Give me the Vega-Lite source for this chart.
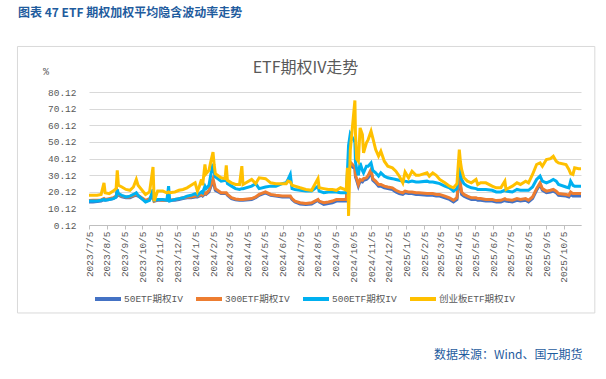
{
  "$schema": "https://vega.github.io/schema/vega-lite/v6.json",
  "width": 492,
  "height": 133,
  "autosize": {"type": "none"},
  "padding": {"left": 89, "top": 92, "right": 25, "bottom": 154},
  "background": "white",
  "title": {"text": "图表 47 ETF 期权加权平均隐含波动率走势", "anchor": "start", "frame": "group", "dx": -71, "offset": 21, "baseline": "middle", "font": "Noto Sans CJK SC", "fontSize": 12, "fontWeight": "bold", "color": "#1F5C9E"},
  "datasets": {
    "iv": [
      {"d":"2023-07-05","a":14,"b":14.8,"c":14.5,"e":18},
      {"d":"2023-07-12","a":14,"b":15,"c":14.5,"e":18},
      {"d":"2023-07-19","a":14.2,"b":15,"c":14.5,"e":18},
      {"d":"2023-07-26","a":14.5,"b":15.2,"c":15,"e":18.5},
      {"d":"2023-07-31","a":15.5,"b":16,"c":15.5,"e":25.5},
      {"d":"2023-08-02","a":15,"b":15.5,"c":15,"e":19.5},
      {"d":"2023-08-09","a":15.5,"b":16,"c":15.5,"e":19},
      {"d":"2023-08-16","a":16,"b":16.5,"c":16,"e":20.5},
      {"d":"2023-08-21","a":17,"b":17.5,"c":17,"e":22},
      {"d":"2023-08-23","a":20,"b":20.5,"c":21.5,"e":33},
      {"d":"2023-08-25","a":18,"b":18.5,"c":19,"e":24},
      {"d":"2023-08-31","a":17,"b":17.5,"c":18,"e":23},
      {"d":"2023-09-07","a":16.5,"b":17,"c":17,"e":21.5},
      {"d":"2023-09-14","a":16.5,"b":17,"c":17.5,"e":21},
      {"d":"2023-09-20","a":17.5,"b":18,"c":18.5,"e":23},
      {"d":"2023-09-25","a":18,"b":18.5,"c":19.5,"e":27.5},
      {"d":"2023-09-28","a":17.5,"b":18,"c":18,"e":24},
      {"d":"2023-10-11","a":14.5,"b":15,"c":14,"e":18.5},
      {"d":"2023-10-18","a":15.5,"b":16,"c":15,"e":20},
      {"d":"2023-10-24","a":18,"b":18.5,"c":21.5,"e":35},
      {"d":"2023-10-26","a":14.5,"b":14.5,"c":15,"e":14.5},
      {"d":"2023-11-01","a":15,"b":15.5,"c":15.5,"e":20.5},
      {"d":"2023-11-10","a":15,"b":15,"c":15.5,"e":20.5},
      {"d":"2023-11-17","a":15,"b":15,"c":15,"e":19.5},
      {"d":"2023-11-20","a":15.5,"b":15.5,"c":23.5,"e":20},
      {"d":"2023-11-22","a":15,"b":15,"c":14.5,"e":19.5},
      {"d":"2023-12-01","a":15,"b":15.5,"c":15.5,"e":20},
      {"d":"2023-12-08","a":15.5,"b":16,"c":16,"e":21},
      {"d":"2023-12-15","a":16,"b":16.5,"c":16.5,"e":21.5},
      {"d":"2023-12-22","a":16.5,"b":17,"c":17.5,"e":22.5},
      {"d":"2023-12-29","a":16.5,"b":17,"c":18,"e":24},
      {"d":"2024-01-05","a":17,"b":17.5,"c":19,"e":25.5},
      {"d":"2024-01-09","a":17,"b":17.5,"c":18,"e":20.5},
      {"d":"2024-01-12","a":17.5,"b":18,"c":19,"e":23},
      {"d":"2024-01-16","a":18,"b":18.5,"c":20,"e":27.5},
      {"d":"2024-01-18","a":17.5,"b":18,"c":19.5,"e":24},
      {"d":"2024-01-22","a":19,"b":19.5,"c":23.5,"e":36.5},
      {"d":"2024-01-24","a":18.5,"b":19,"c":22,"e":31},
      {"d":"2024-01-29","a":20,"b":21,"c":24,"e":33},
      {"d":"2024-02-01","a":23,"b":24,"c":30,"e":38},
      {"d":"2024-02-05","a":26,"b":28,"c":37,"e":43.9},
      {"d":"2024-02-07","a":24,"b":25,"c":32,"e":36.5},
      {"d":"2024-02-09","a":21,"b":22,"c":29,"e":31},
      {"d":"2024-02-19","a":19,"b":19.5,"c":26.5,"e":28.5},
      {"d":"2024-02-26","a":19,"b":19.5,"c":27,"e":28},
      {"d":"2024-02-28","a":19,"b":19.5,"c":28,"e":36},
      {"d":"2024-03-01","a":18,"b":18.5,"c":25,"e":27},
      {"d":"2024-03-08","a":16,"b":16.5,"c":23.5,"e":25.5},
      {"d":"2024-03-15","a":15.3,"b":15.8,"c":22,"e":24.5},
      {"d":"2024-03-22","a":15,"b":15.5,"c":21.5,"e":24.5},
      {"d":"2024-03-26","a":15,"b":15.5,"c":22,"e":35.5},
      {"d":"2024-03-28","a":15,"b":15.5,"c":22,"e":24.5},
      {"d":"2024-04-12","a":15.5,"b":16,"c":23.5,"e":27.5},
      {"d":"2024-04-19","a":16.5,"b":17,"c":25,"e":25},
      {"d":"2024-04-25","a":18,"b":18.5,"c":22,"e":28.5},
      {"d":"2024-05-06","a":19.5,"b":20,"c":23,"e":28},
      {"d":"2024-05-15","a":18,"b":18.5,"c":23.5,"e":25.5},
      {"d":"2024-05-24","a":17.5,"b":18,"c":23.5,"e":25},
      {"d":"2024-06-04","a":17,"b":17.5,"c":25,"e":25},
      {"d":"2024-06-11","a":17,"b":17.5,"c":25.5,"e":25},
      {"d":"2024-06-14","a":17,"b":17.5,"c":27.5,"e":26.5},
      {"d":"2024-06-18","a":17,"b":17.5,"c":30.5,"e":26},
      {"d":"2024-06-21","a":15.5,"b":16,"c":22,"e":24},
      {"d":"2024-06-26","a":14,"b":14.5,"c":21.5,"e":23.5},
      {"d":"2024-07-05","a":12.8,"b":13.5,"c":21,"e":22.5},
      {"d":"2024-07-15","a":12.5,"b":13,"c":20.5,"e":21.5},
      {"d":"2024-07-25","a":12.8,"b":13.5,"c":20.5,"e":21},
      {"d":"2024-08-05","a":15,"b":15.5,"c":23.5,"e":28},
      {"d":"2024-08-07","a":14,"b":14.5,"c":20.5,"e":22.5},
      {"d":"2024-08-15","a":12.5,"b":13.5,"c":19.5,"e":22},
      {"d":"2024-08-23","a":13,"b":14,"c":20,"e":21.5},
      {"d":"2024-08-30","a":13.5,"b":14.5,"c":20,"e":21.5},
      {"d":"2024-09-06","a":14.5,"b":15.5,"c":20,"e":21},
      {"d":"2024-09-13","a":14.5,"b":15.5,"c":19.5,"e":22.5},
      {"d":"2024-09-20","a":14.5,"b":15.5,"c":19.5,"e":21.5},
      {"d":"2024-09-23","a":14.5,"b":15.5,"c":19.5,"e":21},
      {"d":"2024-09-24","a":19,"b":20,"c":25,"e":28},
      {"d":"2024-09-25","a":26,"b":27,"c":32,"e":34.5},
      {"d":"2024-09-26","a":31,"b":33,"c":40,"e":30},
      {"d":"2024-09-27","a":34,"b":36.5,"c":48,"e":5.6},
      {"d":"2024-09-30","a":36,"b":38,"c":55,"e":45},
      {"d":"2024-10-08","a":34,"b":35,"c":50,"e":75},
      {"d":"2024-10-09","a":29,"b":30,"c":38,"e":55},
      {"d":"2024-10-11","a":27,"b":28,"c":34,"e":40},
      {"d":"2024-10-14","a":23.5,"b":24.5,"c":30,"e":38.5},
      {"d":"2024-10-17","a":26.5,"b":27.5,"c":37.5,"e":58.5},
      {"d":"2024-10-21","a":26,"b":27,"c":33,"e":54.5},
      {"d":"2024-10-23","a":27,"b":28,"c":31.5,"e":43.5},
      {"d":"2024-10-28","a":27.5,"b":28.5,"c":35.5,"e":49.5},
      {"d":"2024-10-31","a":28.5,"b":30,"c":35.5,"e":51.5},
      {"d":"2024-11-05","a":32,"b":33.5,"c":37.5,"e":56.5},
      {"d":"2024-11-08","a":27,"b":28,"c":33,"e":52.5},
      {"d":"2024-11-13","a":25.5,"b":26.5,"c":31.5,"e":45.5},
      {"d":"2024-11-18","a":23.5,"b":24.5,"c":29.5,"e":41.5},
      {"d":"2024-11-22","a":23.5,"b":24.5,"c":31.5,"e":44.5},
      {"d":"2024-11-28","a":22.5,"b":23.5,"c":29.5,"e":38.5},
      {"d":"2024-12-04","a":22,"b":23,"c":28.5,"e":35.5},
      {"d":"2024-12-12","a":21.5,"b":22.5,"c":28,"e":34.5},
      {"d":"2024-12-18","a":20,"b":21,"c":27.5,"e":32.5},
      {"d":"2024-12-24","a":19,"b":20,"c":27,"e":29.5},
      {"d":"2024-12-30","a":18.5,"b":19.5,"c":26.5,"e":25.5},
      {"d":"2025-01-03","a":19.5,"b":20.5,"c":26.5,"e":32},
      {"d":"2025-01-09","a":19,"b":20,"c":26,"e":28.5},
      {"d":"2025-01-15","a":19,"b":20,"c":26.5,"e":32.5},
      {"d":"2025-01-22","a":18.5,"b":19.5,"c":26,"e":30},
      {"d":"2025-01-27","a":18.5,"b":19.5,"c":26,"e":30},
      {"d":"2025-02-10","a":18,"b":19,"c":26.5,"e":31.5},
      {"d":"2025-02-14","a":18,"b":19,"c":26,"e":29.5},
      {"d":"2025-02-20","a":18,"b":19,"c":26,"e":31.5},
      {"d":"2025-02-26","a":17.5,"b":18.5,"c":25.5,"e":30},
      {"d":"2025-03-04","a":17.5,"b":18.5,"c":25,"e":27.5},
      {"d":"2025-03-13","a":16.5,"b":17.5,"c":23.5,"e":25.5},
      {"d":"2025-03-21","a":15.5,"b":16.5,"c":22.5,"e":23.5},
      {"d":"2025-03-28","a":14,"b":15,"c":20.5,"e":22.5},
      {"d":"2025-04-03","a":15.5,"b":16.5,"c":22,"e":25},
      {"d":"2025-04-07","a":30,"b":31.5,"c":37.5,"e":45.5},
      {"d":"2025-04-09","a":23.5,"b":25,"c":32,"e":38},
      {"d":"2025-04-11","a":18.5,"b":20,"c":27.5,"e":33.5},
      {"d":"2025-04-15","a":17.5,"b":18.5,"c":25,"e":28.5},
      {"d":"2025-04-21","a":16.5,"b":17.5,"c":23.5,"e":26.5},
      {"d":"2025-04-28","a":15.5,"b":16.5,"c":22.5,"e":25.5},
      {"d":"2025-05-06","a":15.5,"b":16.5,"c":22,"e":27.5},
      {"d":"2025-05-09","a":15,"b":16,"c":21.5,"e":24.5},
      {"d":"2025-05-14","a":15,"b":16,"c":21.5,"e":25.5},
      {"d":"2025-05-23","a":14.5,"b":15.5,"c":21.5,"e":25.5},
      {"d":"2025-06-03","a":14.5,"b":15.5,"c":21,"e":23.5},
      {"d":"2025-06-10","a":14,"b":14.8,"c":20,"e":22.5},
      {"d":"2025-06-18","a":14,"b":15,"c":20,"e":22.5},
      {"d":"2025-06-25","a":15,"b":16,"c":21,"e":26.5},
      {"d":"2025-06-27","a":14.5,"b":15.5,"c":20.5,"e":21.5},
      {"d":"2025-07-08","a":14,"b":15,"c":20,"e":23.5},
      {"d":"2025-07-16","a":15,"b":16,"c":21.5,"e":25.5},
      {"d":"2025-07-22","a":14.5,"b":15.5,"c":21,"e":24.5},
      {"d":"2025-07-31","a":15,"b":16,"c":21,"e":26.5},
      {"d":"2025-08-05","a":14,"b":15,"c":21,"e":25.5},
      {"d":"2025-08-12","a":16,"b":17,"c":23,"e":30.5},
      {"d":"2025-08-19","a":21,"b":22,"c":27.5,"e":36.5},
      {"d":"2025-08-25","a":24.5,"b":25.5,"c":29.5,"e":37.5},
      {"d":"2025-08-29","a":21,"b":22,"c":26.5,"e":35.5},
      {"d":"2025-09-05","a":19.5,"b":20.5,"c":25.5,"e":39.5},
      {"d":"2025-09-12","a":20,"b":21,"c":26.5,"e":40},
      {"d":"2025-09-17","a":20.5,"b":21.5,"c":27.5,"e":41.5},
      {"d":"2025-09-22","a":19.5,"b":20.5,"c":26.5,"e":38.5},
      {"d":"2025-09-26","a":18,"b":19,"c":24.5,"e":37.5},
      {"d":"2025-10-09","a":17.5,"b":18.5,"c":23,"e":36.5},
      {"d":"2025-10-14","a":17,"b":18,"c":22.5,"e":33.5},
      {"d":"2025-10-17","a":18.5,"b":20,"c":26.5,"e":31},
      {"d":"2025-10-21","a":17.5,"b":19,"c":24,"e":30.5},
      {"d":"2025-10-24","a":17.5,"b":19,"c":23.5,"e":34.5},
      {"d":"2025-10-31","a":17.5,"b":19,"c":23.5,"e":34},
      {"d":"2025-11-04","a":17.5,"b":19,"c":23.5,"e":34}
    ]
  },
  "layer": [
    {
      "data": {"values": [{}]},
      "mark": {"type": "rect", "filled": false, "stroke": "#D9D9D9", "strokeWidth": 1},
      "encoding": {
        "x": {"datum": {"year": 2023, "month": 3, "date": 3, "utc": true}, "type": "temporal", "axis": null,
              "scale": {"type": "utc", "domain": [{"year": 2023, "month": 7, "date": 5, "utc": true}, {"year": 2025, "month": 11, "date": 4, "utc": true}], "nice": false}},
        "x2": {"datum": {"year": 2025, "month": 11, "date": 28, "utc": true}},
        "y": {"datum": -52.8, "type": "quantitative", "axis": null, "scale": {"domain": [0.12, 80.12], "nice": false, "zero": false}},
        "y2": {"datum": 107.5}
      }
    },
    {
      "data": {"name": "iv"},
      "transform": [{"fold": ["a", "b", "c", "e"], "as": ["s", "v"]}],
      "mark": {"type": "line", "strokeWidth": 3, "interpolate": "linear"},
      "encoding": {
        "x": {
          "field": "d", "type": "temporal",
          "scale": {"type": "utc", "domain": [{"year": 2023, "month": 7, "date": 5, "utc": true}, {"year": 2025, "month": 11, "date": 4, "utc": true}], "nice": false},
          "axis": {
            "orient": "bottom",
            "values": [
              {"year":2023,"month":7,"date":5,"utc":true},{"year":2023,"month":8,"date":5,"utc":true},{"year":2023,"month":9,"date":5,"utc":true},
              {"year":2023,"month":10,"date":5,"utc":true},{"year":2023,"month":11,"date":5,"utc":true},{"year":2023,"month":12,"date":5,"utc":true},
              {"year":2024,"month":1,"date":5,"utc":true},{"year":2024,"month":2,"date":5,"utc":true},{"year":2024,"month":3,"date":5,"utc":true},
              {"year":2024,"month":4,"date":5,"utc":true},{"year":2024,"month":5,"date":5,"utc":true},{"year":2024,"month":6,"date":5,"utc":true},
              {"year":2024,"month":7,"date":5,"utc":true},{"year":2024,"month":8,"date":5,"utc":true},{"year":2024,"month":9,"date":5,"utc":true},
              {"year":2024,"month":10,"date":5,"utc":true},{"year":2024,"month":11,"date":5,"utc":true},{"year":2024,"month":12,"date":5,"utc":true},
              {"year":2025,"month":1,"date":5,"utc":true},{"year":2025,"month":2,"date":5,"utc":true},{"year":2025,"month":3,"date":5,"utc":true},
              {"year":2025,"month":4,"date":5,"utc":true},{"year":2025,"month":5,"date":5,"utc":true},{"year":2025,"month":6,"date":5,"utc":true},
              {"year":2025,"month":7,"date":5,"utc":true},{"year":2025,"month":8,"date":5,"utc":true},{"year":2025,"month":9,"date":5,"utc":true},
              {"year":2025,"month":10,"date":5,"utc":true}
            ],
            "format": "%Y/%-m/%-d",
            "labelAngle": -90, "labelAlign": "right", "labelBaseline": "middle", "labelPadding": 2,
            "labelFont": "Liberation Mono", "labelFontSize": 9.5, "labelColor": "#595959",
            "labelOverlap": false, "labelFlush": false,
            "ticks": true, "tickSize": 4, "tickColor": "#BFBFBF", "domainColor": "#BFBFBF", "grid": false,
            "title": "数据来源：Wind、国元期货", "titleX": 493, "titleY": 129, "titleAlign": "right", "titleBaseline": "middle",
            "titleFont": "Noto Sans CJK SC", "titleFontSize": 12, "titleFontWeight": "normal", "titleColor": "#1F5C9E"
          }
        },
        "y": {
          "field": "v", "type": "quantitative",
          "scale": {"domain": [0.12, 80.12], "nice": false, "zero": false},
          "axis": {
            "values": [0.12, 10.12, 20.12, 30.12, 40.12, 50.12, 60.12, 70.12, 80.12],
            "format": ".2f", "grid": true, "gridColor": "#D9D9D9", "domain": false, "ticks": false,
            "labelPadding": 13, "labelFont": "Liberation Mono", "labelFontSize": 9.5, "labelColor": "#595959",
            "title": "%", "titleAngle": 0, "titleX": -43.6, "titleY": -21, "titleAlign": "center", "titleBaseline": "middle",
            "titleFont": "Liberation Mono", "titleFontSize": 10, "titleFontWeight": "normal", "titleColor": "#595959"
          }
        },
        "color": {
          "field": "s", "type": "nominal",
          "scale": {"domain": ["a", "b", "c", "e"], "range": ["#4472C4", "#ED7D31", "#00B0F0", "#FFC000"]},
          "legend": {
            "orient": "none", "legendX": 4, "legendY": 192, "direction": "horizontal", "title": null,
            "gridAlign": "none",
            "symbolType": "stroke", "symbolSize": 676, "symbolStrokeWidth": 4,
            "labelFont": "Liberation Mono, Noto Sans CJK SC", "labelFontSize": 9.5, "labelColor": "#595959",
            "columnPadding": 5, "labelOffset": 1, "padding": 0,
            "labelExpr": "datum.label == 'a' ? '50ETF期权IV' : datum.label == 'b' ? '300ETF期权IV' : datum.label == 'c' ? '500ETF期权IV' : '创业板ETF期权IV'"
          }
        }
      }
    },
    {
      "data": {"name": "iv"},
      "mark": {"type": "line", "opacity": 0},
      "encoding": {
        "x": {
          "field": "d", "type": "temporal",
          "scale": {"type": "utc", "domain": [{"year": 2023, "month": 7, "date": 5, "utc": true}, {"year": 2025, "month": 11, "date": 4, "utc": true}], "nice": false},
          "axis": {
            "orient": "top", "labels": false, "ticks": false, "domain": false, "grid": false,
            "title": "ETF期权IV走势", "titleX": 216, "titleY": -25, "titleAlign": "center", "titleBaseline": "middle",
            "titleFont": "Noto Sans CJK SC", "titleFontSize": 16, "titleFontWeight": "normal", "titleColor": "#595959"
          }
        },
        "y": {"field": "a", "type": "quantitative", "scale": {"domain": [0.12, 80.12], "nice": false, "zero": false}, "axis": null}
      }
    }
  ],
  "resolve": {"axis": {"x": "independent", "y": "independent"}},
  "config": {"view": {"stroke": null}, "font": "Noto Sans CJK SC"}
}
